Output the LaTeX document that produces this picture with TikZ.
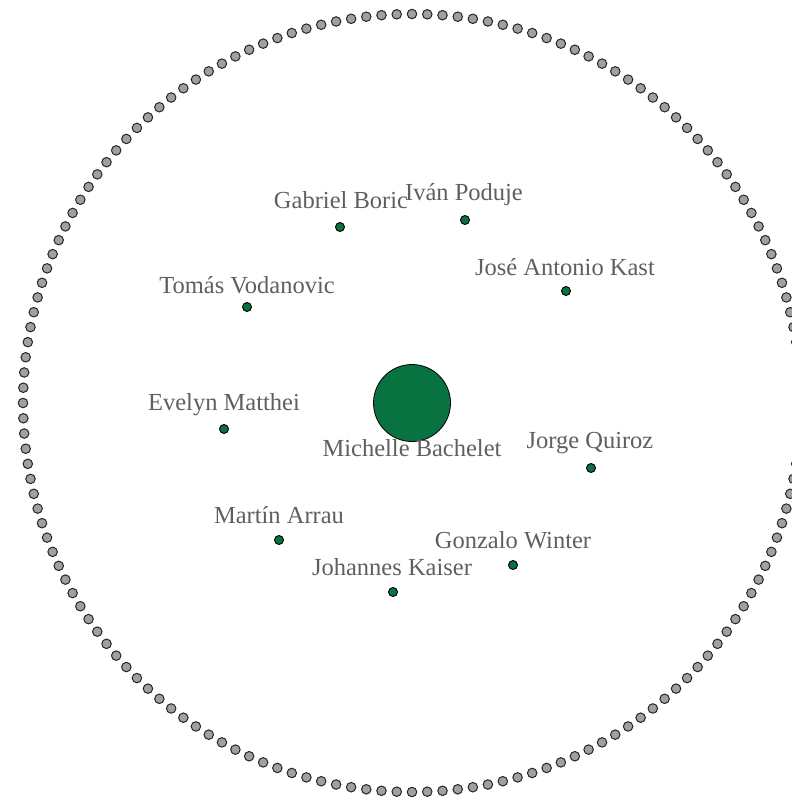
\documentclass[tikz,border=0pt]{standalone}
\usepackage{fontspec}
\setmainfont{Liberation Serif}
\definecolor{nodegreen}{RGB}{8,115,65}
\definecolor{ringgray}{RGB}{160,160,160}
\definecolor{labelgray}{RGB}{95,95,95}
\tikzset{
    person/.style={circle, draw=black, fill=nodegreen, line width=0.9pt, inner sep=0pt, minimum size=9pt},
    isolate/.style={circle, draw=black!85, fill=ringgray, line width=1pt, inner sep=0pt, minimum size=9.5pt},
    personlabel/.style={anchor=base, text=labelgray, inner sep=0pt, font=\fontsize{24.5}{29}\selectfont}
}
\begin{document}
\begin{tikzpicture}[x=1pt,y=-1pt]
    % Fix the page to the size of the reference
    \useasboundingbox (0,0) rectangle (792,798);
    \clip (0,0) rectangle (792,798);

    % Draw the ring of isolated nodes
    \foreach \i in {1,...,160} {
        \node[isolate] (ring\i) at ({412+389*cos(\i*2.25)},{403-389*sin(\i*2.25)}) {};
    }

    % Draw the central node
    \node[circle, draw=black, fill=nodegreen, line width=0.8pt, minimum size=77pt, inner sep=0pt] (bachelet) at (412,403) {};
    \node[personlabel] (bachelet-lbl) at (412,456) {Michelle Bachelet};

    % Draw the other people
    \node[person] (boric) at (340,227) {};
    \node[personlabel] (boric-lbl) at (341,208) {Gabriel Boric};

    \node[person] (poduje) at (465,220) {};
    \node[personlabel] (poduje-lbl) at (464,200) {Iván Poduje};

    \node[person] (kast) at (566,291) {};
    \node[personlabel] (kast-lbl) at (565,275) {José Antonio Kast};

    \node[person] (vodanovic) at (247,307) {};
    \node[personlabel] (vodanovic-lbl) at (247,293) {Tomás Vodanovic};

    \node[person] (matthei) at (224,429) {};
    \node[personlabel] (matthei-lbl) at (224,410) {Evelyn Matthei};

    \node[person] (quiroz) at (591,468) {};
    \node[personlabel] (quiroz-lbl) at (590,448) {Jorge Quiroz};

    \node[person] (arrau) at (279,540) {};
    \node[personlabel] (arrau-lbl) at (279,523) {Martín Arrau};

    \node[person] (winter) at (513,565) {};
    \node[personlabel] (winter-lbl) at (513,548) {Gonzalo Winter};

    \node[person] (kaiser) at (393,592) {};
    \node[personlabel] (kaiser-lbl) at (392,575) {Johannes Kaiser};
\end{tikzpicture}
\end{document}
